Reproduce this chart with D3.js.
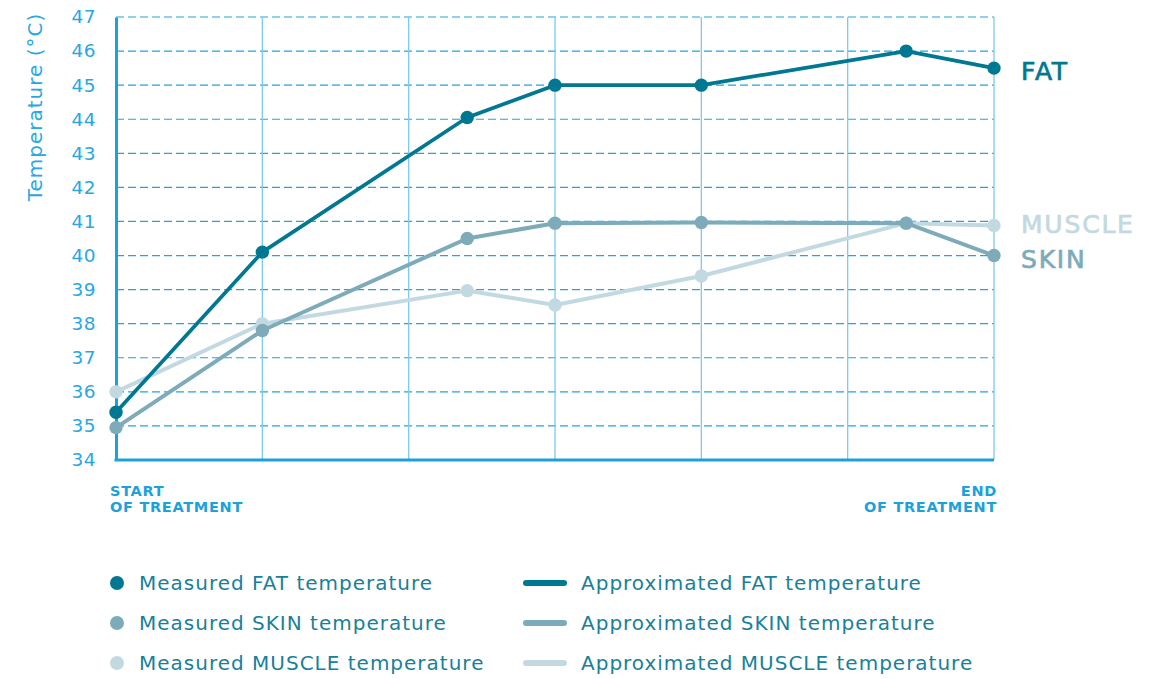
<!DOCTYPE html>
<html>
<head>
<meta charset="utf-8">
<script src="https://cdn.jsdelivr.net/npm/d3@7"></script>
<style>
  body { margin: 0; background: #fff; }
  svg { display: block; font-family: "DejaVu Sans", sans-serif; }
</style>
</head>
<body>
<div id="chart"></div>
<script>
// time positions (in grid intervals from start of treatment)
var times = [0, 1, 2.4, 3, 4, 5.4, 6];
var fatValues = [35.4, 40.1, 44.05, 45, 45, 46, 45.5];
var skinValues = [34.95, 37.8, 40.5, 40.95, 40.97, 40.95, 40];
var muscleValues = [36, 38, 38.97, 38.55, 39.4, 40.95, 40.88];
var yTicks = [34, 35, 36, 37, 38, 39, 40, 41, 42, 43, 44, 45, 46, 47];
var xGrid = [0, 1, 2, 3, 4, 5, 6];
var seriesNames = ["FAT", "SKIN", "MUSCLE"];
var seriesColors = ["#007891", "#7eabb9", "#c3d9e1"];
var endLabelAt = [45.43, 39.9, 40.93];

var width = 1163, height = 679;
var margin = { top: 17, right: 169, bottom: 219, left: 116 };
var innerW = width - margin.left - margin.right;
var innerH = height - margin.top - margin.bottom;
var axisBlue = "#1ba1dc";

var svg = d3.select("#chart").append("svg")
    .attr("width", width)
    .attr("height", height);

var g = svg.append("g")
    .attr("transform", "translate(" + margin.left + "," + margin.top + ")");

var x = d3.scaleLinear().domain([0, 6]).range([0, innerW]);
var y = d3.scaleLinear().domain([34, 47]).range([innerH, 0]);

// horizontal dashed grid
g.selectAll(".hgrid")
    .data(yTicks.slice(1))
    .enter()
    .append("line")
    .attr("x1", 0)
    .attr("x2", innerW)
    .attr("y1", d => y(d))
    .attr("y2", d => y(d))
    .attr("stroke", "#22a4e0")
    .attr("stroke-width", 1.2)
    .attr("stroke-dasharray", "8,4");

// vertical grid
g.selectAll(".vgrid")
    .data(xGrid.slice(1))
    .enter()
    .append("line")
    .attr("x1", d => x(d))
    .attr("x2", d => x(d))
    .attr("y1", 0)
    .attr("y2", innerH)
    .attr("stroke", "#7ccbeb")
    .attr("stroke-width", 1.3);

// y axis
var yAxis = g.append("g")
    .call(d3.axisLeft(y).tickValues(yTicks).tickSize(0).tickPadding(20));
yAxis.select(".domain").attr("stroke", axisBlue).attr("stroke-width", 3);
yAxis.selectAll("text")
    .attr("fill", "#2aa7df")
    .attr("font-size", 18.5)
    .attr("letter-spacing", 0.5)
    .attr("font-family", "DejaVu Sans, sans-serif");

// x axis baseline
g.append("line")
    .attr("x1", -1.5)
    .attr("x2", innerW)
    .attr("y1", innerH)
    .attr("y2", innerH)
    .attr("stroke", axisBlue)
    .attr("stroke-width", 3);

// y axis title
svg.append("text")
    .attr("transform", "translate(42,107) rotate(-90)")
    .attr("text-anchor", "middle")
    .attr("fill", "#2aa7df")
    .attr("font-size", 20)
    .attr("letter-spacing", 1)
    .text("Temperature (°C)");

// x labels
var startLbl = g.append("text")
    .attr("y", innerH + 36)
    .attr("fill", "#1ba1dc")
    .attr("font-size", 14.5)
    .attr("letter-spacing", 0.7)
    .attr("font-weight", "bold");
startLbl.append("tspan").attr("x", -6).text("START");
startLbl.append("tspan").attr("x", -6).attr("dy", 16).text("OF TREATMENT");

var endLbl = g.append("text")
    .attr("y", innerH + 36)
    .attr("text-anchor", "end")
    .attr("fill", "#1ba1dc")
    .attr("font-size", 14.5)
    .attr("letter-spacing", 0.7)
    .attr("font-weight", "bold");
endLbl.append("tspan").attr("x", innerW + 3).text("END");
endLbl.append("tspan").attr("x", innerW + 3).attr("dy", 16).text("OF TREATMENT");

// series
var allValues = [fatValues, skinValues, muscleValues];
var line = d3.line()
    .x((d, i) => x(times[i]))
    .y(d => y(d));

// draw muscle first, then skin, then fat on top
[2, 1, 0].forEach(function (s) {
    g.append("path")
        .datum(allValues[s])
        .attr("d", line)
        .attr("fill", "none")
        .attr("stroke", seriesColors[s])
        .attr("stroke-width", s === 0 ? 3.7 : 4)
        .attr("stroke-linejoin", "round");
    g.selectAll(".dot" + s)
        .data(allValues[s])
        .enter()
        .append("circle")
        .attr("cx", (d, i) => x(times[i]))
        .attr("cy", d => y(d))
        .attr("r", 6.7)
        .attr("fill", seriesColors[s]);
});

// right-side series labels
seriesNames.forEach(function (name, s) {
    g.append("text")
        .attr("x", innerW + 27)
        .attr("y", y(endLabelAt[s]))
        .attr("dy", "0.36em")
        .attr("fill", seriesColors[s])
        .attr("stroke", seriesColors[s])
        .attr("stroke-width", 0.7)
        .attr("font-size", 25)
        .attr("letter-spacing", 1.8)
        .text(name);
});

// legend
var legend = svg.append("g");
seriesNames.forEach(function (name, s) {
    var ly = 583 + s * 40;
    legend.append("circle")
        .attr("cx", 117)
        .attr("cy", ly)
        .attr("r", 7)
        .attr("fill", seriesColors[s]);
    legend.append("text")
        .attr("x", 139)
        .attr("y", ly)
        .attr("dy", "0.35em")
        .attr("fill", "#19809a")
        .attr("font-size", 20)
        .attr("letter-spacing", 1)
        .text("Measured " + name + " temperature");
    legend.append("line")
        .attr("x1", 526)
        .attr("x2", 564)
        .attr("y1", ly)
        .attr("y2", ly)
        .attr("stroke", seriesColors[s])
        .attr("stroke-width", 6)
        .attr("stroke-linecap", "round");
    legend.append("text")
        .attr("x", 581)
        .attr("y", ly)
        .attr("dy", "0.35em")
        .attr("fill", "#19809a")
        .attr("font-size", 20)
        .attr("letter-spacing", 1)
        .text("Approximated " + name + " temperature");
});
</script>
</body>
</html>
